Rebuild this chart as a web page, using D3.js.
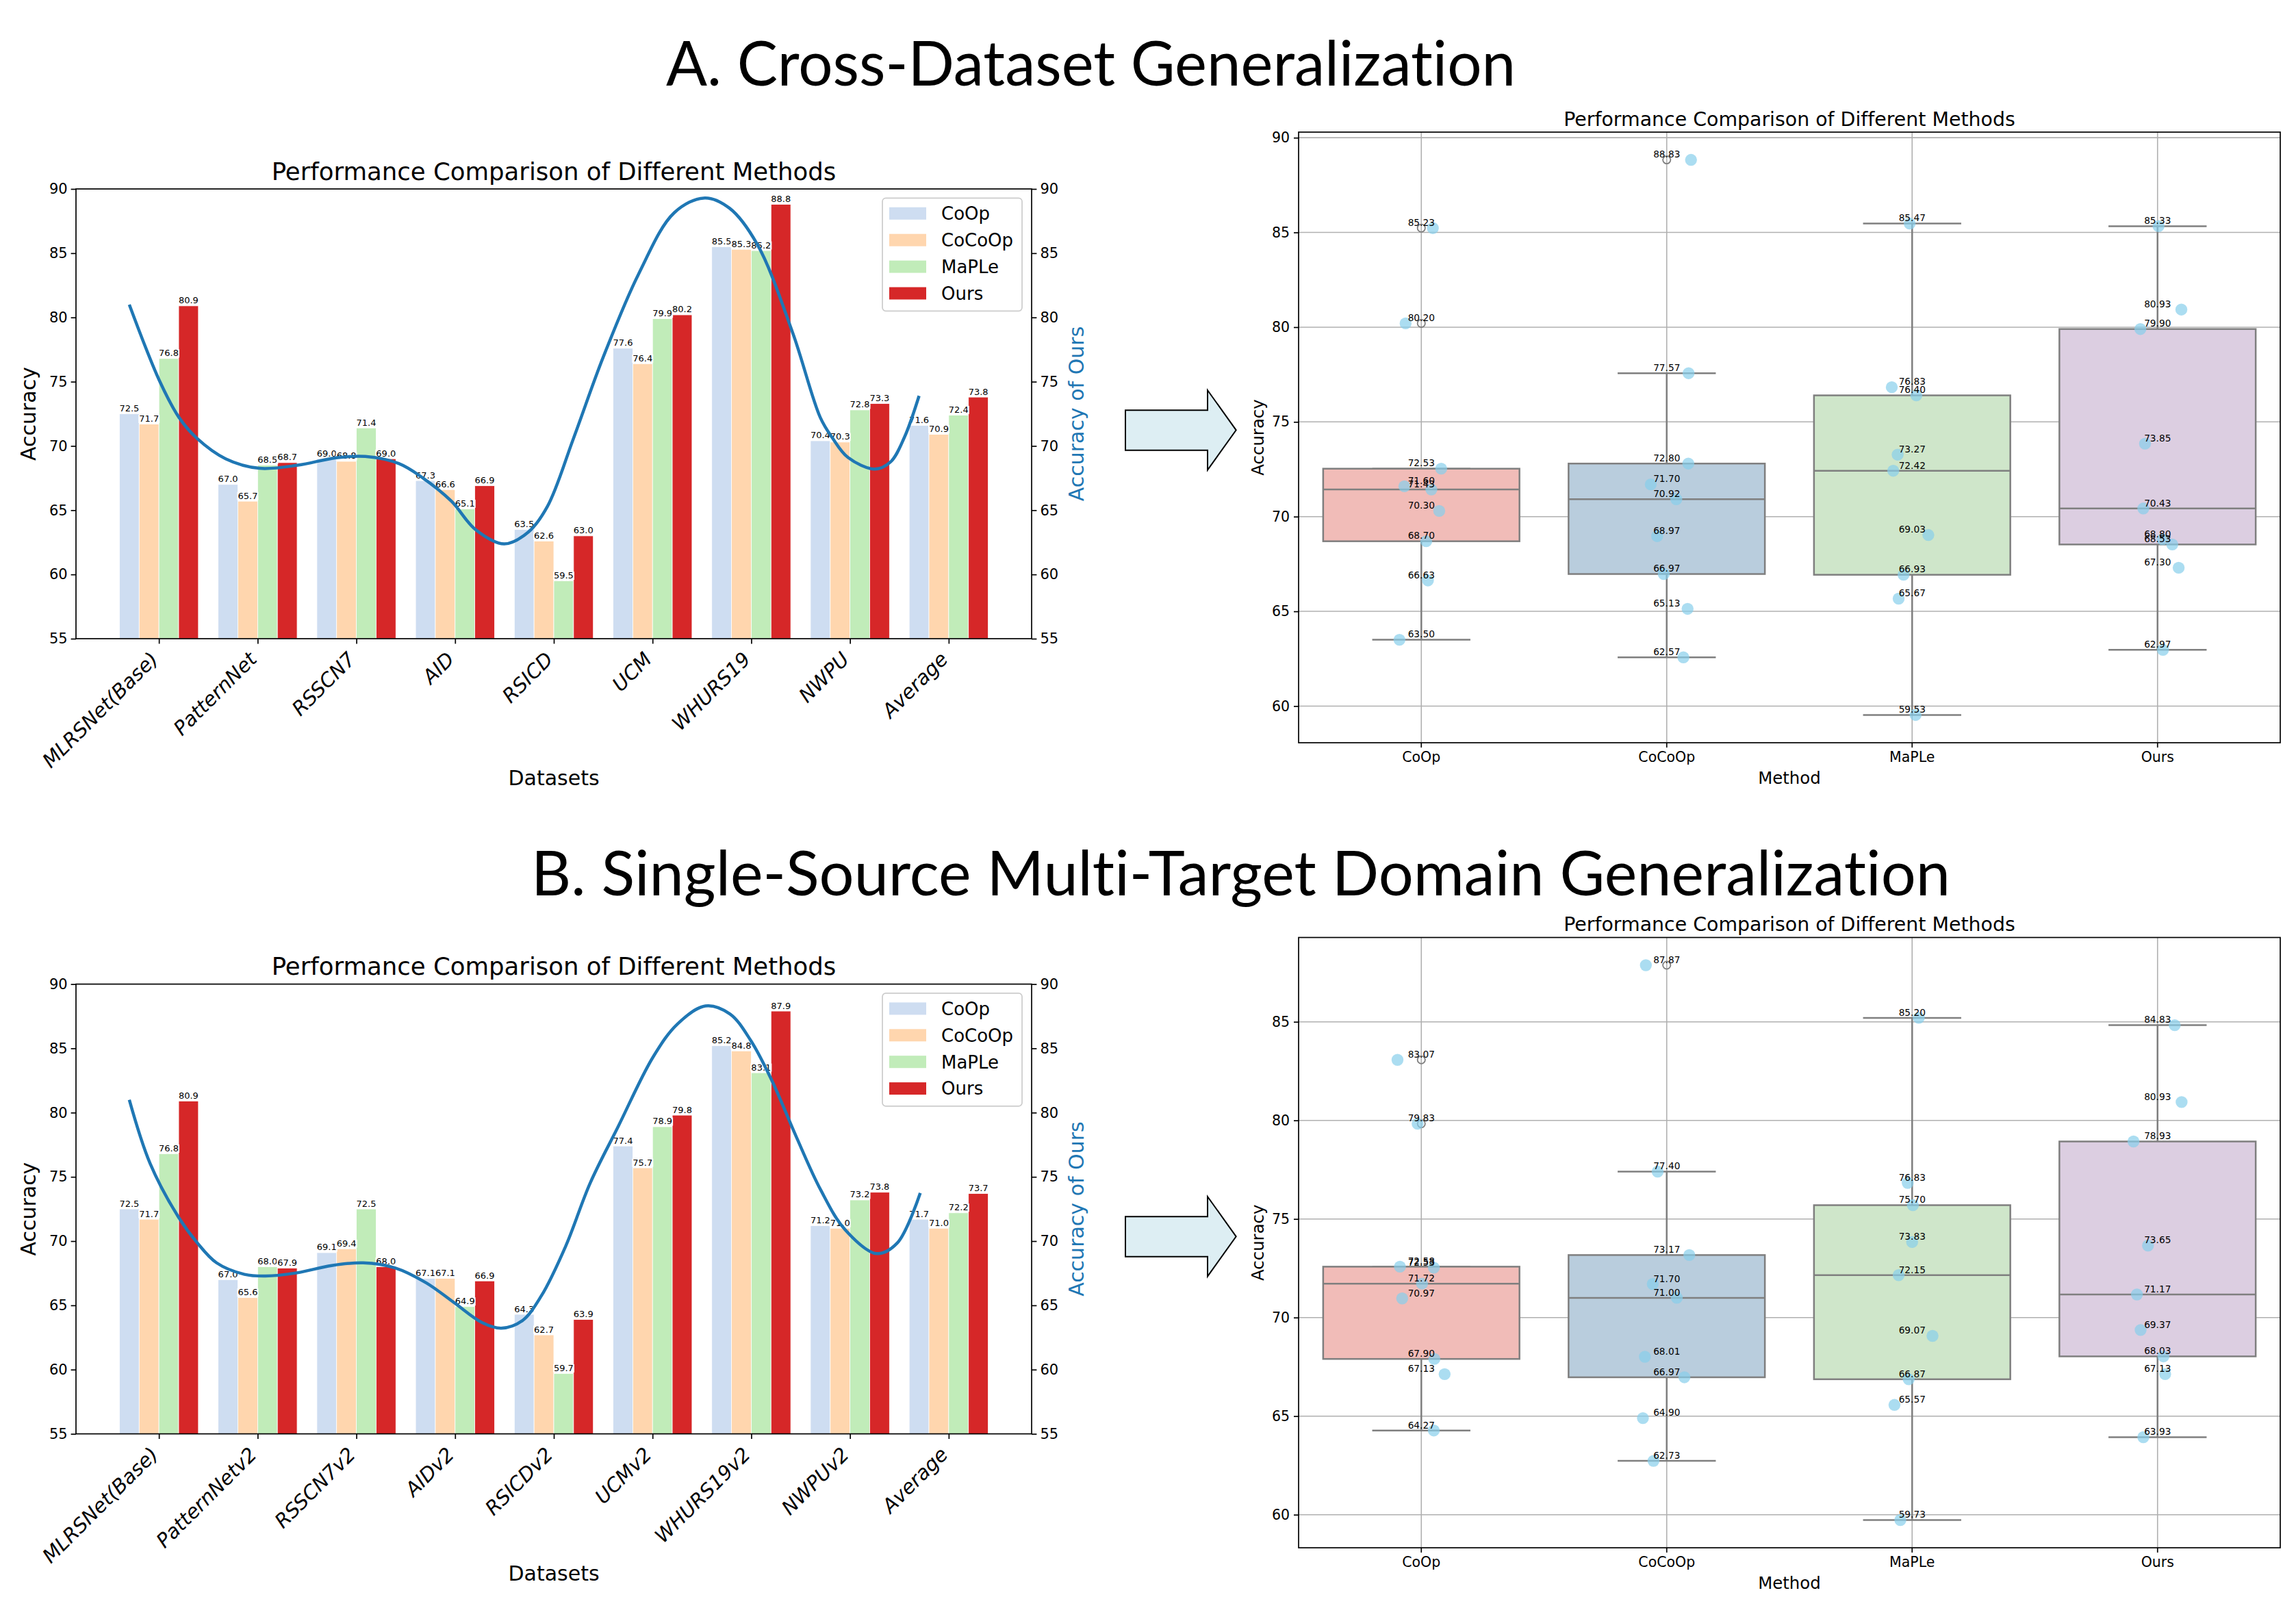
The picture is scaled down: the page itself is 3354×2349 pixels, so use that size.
<!DOCTYPE html>
<html>
<head>
<meta charset="utf-8">
<script src="https://cdn.jsdelivr.net/npm/d3@7"></script>
<style>
  body { margin: 0; background: #fff; }
  svg { display: block; }
  text { font-variant-ligatures: none; }
</style>
</head>
<body>
<svg id="fig" width="3354" height="2349"></svg>
<script>
// ---------------- data ----------------
const methods = ["CoOp", "CoCoOp", "MaPLe", "Ours"];

// A. cross-dataset bars
const datasetsA = ["MLRSNet(Base)", "PatternNet", "RSSCN7", "AID", "RSICD", "UCM", "WHURS19", "NWPU", "Average"];
const coopA   = [72.5, 67.0, 69.0, 67.3, 63.5, 77.6, 85.5, 70.4, 71.6];
const cocoopA = [71.7, 65.7, 68.8, 66.6, 62.6, 76.4, 85.3, 70.3, 70.9];
const mapleA  = [76.8, 68.5, 71.4, 65.1, 59.5, 79.9, 85.2, 72.8, 72.4];
const oursA   = [80.9, 68.7, 69.0, 66.9, 63.0, 80.2, 88.8, 73.3, 73.8];
// smoothed "Ours" trend (x = dataset index)
const trendXA = [0, 0.31, 0.505, 0.684, 0.976, 1.317, 1.707, 2.095, 2.39, 2.73, 2.97, 3.263, 3.506, 3.798, 4.042, 4.236, 4.5, 4.8, 5.16, 5.52, 5.83, 6.08, 6.36, 6.72, 7.0, 7.12, 7.28, 7.55, 7.71, 7.85, 8.0];
const trendYA = [81.0, 75.0, 72.2, 70.6, 69.0, 68.26, 68.5, 69.08, 69.18, 68.63, 67.53, 65.7, 63.5, 62.38, 63.3, 65.3, 70.6, 76.9, 83.4, 88.15, 89.3, 88.5, 85.7, 78.8, 72.2, 70.65, 69.1, 68.2, 68.75, 70.65, 73.9];

// B. single-source multi-target bars
const datasetsB = ["MLRSNet(Base)", "PatternNetv2", "RSSCN7v2", "AIDv2", "RSICDv2", "UCMv2", "WHURS19v2", "NWPUv2", "Average"];
const coopB   = [72.5, 67.0, 69.1, 67.1, 64.3, 77.4, 85.2, 71.2, 71.7];
const cocoopB = [71.7, 65.6, 69.4, 67.1, 62.7, 75.7, 84.8, 71.0, 71.0];
const mapleB  = [76.8, 68.0, 72.5, 64.9, 59.7, 78.9, 83.1, 73.2, 72.2];
const oursB   = [80.9, 67.9, 68.0, 66.9, 63.9, 79.8, 87.9, 73.8, 73.7];
const trendXB = [0, 0.21, 0.494, 0.689, 0.884, 1.167, 1.379, 1.698, 2.05, 2.37, 2.69, 3.006, 3.29, 3.573, 3.767, 3.98, 4.173, 4.42, 4.668, 4.951, 5.305, 5.553, 5.836, 6.083, 6.295, 6.508, 6.756, 7.003, 7.25, 7.569, 7.78, 8.012];
const trendYB = [81.0, 76.06, 71.92, 69.86, 68.31, 67.41, 67.28, 67.53, 68.1, 68.31, 67.92, 66.76, 65.21, 63.66, 63.22, 63.8, 65.73, 69.6, 74.51, 78.9, 84.32, 86.9, 88.3, 87.68, 85.61, 82.51, 78.12, 73.99, 70.89, 69.03, 69.86, 73.74];

// box plots: values per method and the horizontal jitter of each dot (category units)
const boxCoopA    = [85.23, 80.20, 72.53, 71.60, 71.43, 70.30, 68.70, 66.63, 63.50];
const jitCoopA    = [0.047, -0.064, 0.081, -0.069, 0.041, 0.073, 0.020, 0.027, -0.089];
const boxCocoopA  = [88.83, 77.57, 72.80, 71.70, 70.92, 68.97, 66.97, 65.13, 62.57];
const jitCocoopA  = [0.099, 0.089, 0.088, -0.065, 0.039, -0.039, -0.012, 0.085, 0.068];
const boxMapleA   = [85.47, 76.83, 76.40, 73.27, 72.42, 69.03, 66.93, 65.67, 59.53];
const jitMapleA   = [-0.010, -0.083, 0.017, -0.059, -0.077, 0.066, -0.035, -0.055, 0.014];
const boxOursA    = [85.33, 80.93, 79.90, 73.85, 70.43, 68.80, 68.53, 67.30, 62.97];
const jitOursA    = [0.004, 0.097, -0.070, -0.051, -0.058, 0.020, 0.060, 0.086, 0.022];

const boxCoopB    = [83.07, 79.83, 72.58, 72.53, 71.72, 70.97, 67.90, 67.13, 64.27];
const jitCoopB    = [-0.097, -0.015, -0.087, 0.051, 0.003, -0.078, 0.053, 0.095, 0.051];
const boxCocoopB  = [87.87, 77.40, 73.17, 71.70, 71.00, 68.01, 66.97, 64.90, 62.73];
const jitCocoopB  = [-0.085, -0.037, 0.092, -0.057, 0.041, -0.089, 0.072, -0.097, -0.054];
const boxMapleB   = [85.20, 76.83, 75.70, 73.83, 72.15, 69.07, 66.87, 65.57, 59.73];
const jitMapleB   = [0.027, -0.018, 0.003, 0.000, -0.055, 0.083, -0.014, -0.072, -0.048];
const boxOursB    = [84.83, 80.93, 78.93, 73.65, 71.17, 69.37, 68.03, 67.13, 63.93];
const jitOursB    = [0.070, 0.098, -0.098, -0.039, -0.084, -0.069, 0.024, 0.031, -0.058];

// ---------------- drawing ----------------
const svg = d3.select("#fig");
const FONT = "DejaVu Sans, Verdana, sans-serif";

const barColors = ["#aec7e8", "#ffbb78", "#98df8a", "#d62728"];
const barAlpha = [0.6, 0.6, 0.6, 1];
const lineBlue = "#1f77b4";

function styleAxis(g, size) {
  g.selectAll("path.domain").remove();
  g.selectAll(".tick line").attr("stroke", "#000").attr("stroke-width", 1.7);
  g.selectAll(".tick text").attr("font-family", FONT).attr("font-size", size).attr("fill", "#000");
}

function drawBars(top, datasets, series, trendX, trendY) {
  const left = 111, right = 1507, h = 657;
  const g = svg.append("g");
  const x = d3.scaleLinear().domain([-0.54, 9.14]).range([left, right]);
  const y = d3.scaleLinear().domain([55, 90]).range([top + h, top]);
  const bw = x(0.2) - x(0);

  // bars
  series.forEach((vals, k) => {
    g.append("g").selectAll("rect").data(vals).join("rect")
      .attr("x", (d, i) => x(i + 0.2 * k - 0.1))
      .attr("y", d => y(d))
      .attr("width", bw)
      .attr("height", d => y(55) - y(d))
      .attr("fill", barColors[k])
      .attr("fill-opacity", barAlpha[k])
      .attr("stroke", "#fff")
      .attr("stroke-width", 0.8);
  });

  // value labels
  const lab = g.append("g");
  series.forEach((vals, k) => {
    vals.forEach((v, i) => {
      const lg = lab.append("g");
      const t = lg.append("text")
        .attr("x", x(i + 0.2 * k))
        .attr("y", y(v) - 3.5)
        .attr("text-anchor", "middle")
        .attr("font-family", FONT)
        .attr("font-size", 13)
        .text(v.toFixed(1));
      const b = t.node().getBBox();
      lg.insert("rect", "text")
        .attr("x", b.x - 1).attr("y", b.y + 2)
        .attr("width", b.width + 2).attr("height", b.height - 3)
        .attr("fill", "#fff");
    });
  });

  // axes
  const ax = g.append("g").attr("transform", `translate(${left},0)`)
    .call(d3.axisLeft(y).tickValues(d3.range(55, 91, 5)).tickSize(7.4).tickPadding(5));
  styleAxis(ax, 21);
  const ax2 = g.append("g").attr("transform", `translate(${right},0)`)
    .call(d3.axisRight(y).tickValues(d3.range(55, 91, 5)).tickSize(7.4).tickPadding(5));
  styleAxis(ax2, 21);
  const axb = g.append("g").attr("transform", `translate(0,${top + h})`)
    .call(d3.axisBottom(x).tickValues(d3.range(datasets.length).map(i => i + 0.3))
      .tickFormat((d, i) => datasets[i]).tickSize(7.4));
  styleAxis(axb, 29);
  axb.selectAll(".tick text")
    .attr("font-style", "italic")
    .attr("text-anchor", "end")
    .attr("y", 0).attr("dy", 0)
    .attr("transform", "translate(0,32) rotate(-45)");

  // trend line of "Ours" (twin axis, same range)
  const pts = trendX.map((t, i) => [t, trendY[i]]);
  g.append("path")
    .attr("d", d3.line().x(d => x(d[0])).y(d => y(d[1])).curve(d3.curveCatmullRom.alpha(0.5))(pts))
    .attr("fill", "none")
    .attr("stroke", lineBlue)
    .attr("stroke-width", 4.5);

  // frame
  g.append("rect").attr("x", left).attr("y", top).attr("width", right - left).attr("height", h)
    .attr("fill", "none").attr("stroke", "#000").attr("stroke-width", 1.7);

  // legend
  const lgd = g.append("g");
  lgd.append("rect").attr("x", 1289).attr("y", top + 13.3).attr("width", 204).attr("height", 165)
    .attr("rx", 5).attr("fill", "#fff").attr("fill-opacity", 0.8)
    .attr("stroke", "#cccccc").attr("stroke-width", 1.7);
  methods.forEach((m, k) => {
    const cy = top + 35.8 + k * 38.9;
    lgd.append("rect").attr("x", 1299).attr("y", cy - 9).attr("width", 54).attr("height", 18)
      .attr("fill", barColors[k]).attr("fill-opacity", barAlpha[k]);
    lgd.append("text").attr("x", 1375).attr("y", cy).attr("dy", "0.36em")
      .attr("font-family", FONT).attr("font-size", 26).text(m);
  });

  // titles and labels
  g.append("text").attr("x", (left + right) / 2).attr("y", top - 13.5)
    .attr("text-anchor", "middle").attr("font-family", FONT).attr("font-size", 35.5)
    .text("Performance Comparison of Different Methods");
  g.append("text").attr("transform", `translate(41,${top + h / 2}) rotate(-90)`)
    .attr("text-anchor", "middle").attr("dominant-baseline", "central")
    .attr("font-family", FONT).attr("font-size", 30).text("Accuracy");
  g.append("text").attr("transform", `translate(1572,${top + h / 2}) rotate(-90)`)
    .attr("text-anchor", "middle").attr("dominant-baseline", "central")
    .attr("font-family", FONT).attr("font-size", 30).attr("fill", lineBlue).text("Accuracy of Ours");
  g.append("text").attr("x", (left + right) / 2).attr("y", top + h + 214)
    .attr("text-anchor", "middle").attr("font-family", FONT).attr("font-size", 30).text("Datasets");
}

function drawBoxes(top, bottom, groups) {
  const left = 1897, right = 3331;
  const g = svg.append("g");
  const allVals = groups.flatMap(d => d.vals);
  const lo = d3.min(allVals), hi = d3.max(allVals), pad = (hi - lo) * 0.05;
  const y = d3.scaleLinear().domain([lo - pad, hi + pad]).range([bottom, top]);
  const x = d3.scaleBand().domain(methods).range([left, right]).padding(0);
  const unit = x.bandwidth();
  const cx = m => x(m) + unit / 2;
  const yTicks = d3.range(60, 91, 5).filter(v => v >= lo - pad && v <= hi + pad);
  const edge = "#7f7f7f";

  // grid
  g.append("g").selectAll("line").data(yTicks).join("line")
    .attr("x1", left).attr("x2", right).attr("y1", d => y(d)).attr("y2", d => y(d))
    .attr("stroke", "#b0b0b0").attr("stroke-width", 1.6);
  g.append("g").selectAll("line").data(methods).join("line")
    .attr("x1", cx).attr("x2", cx).attr("y1", top).attr("y2", bottom)
    .attr("stroke", "#b0b0b0").attr("stroke-width", 1.6);

  // boxes
  groups.forEach((grp, k) => {
    const m = methods[k];
    const s = grp.vals.slice().sort(d3.ascending);
    const q1 = d3.quantile(s, 0.25), med = d3.quantile(s, 0.5), q3 = d3.quantile(s, 0.75);
    const iqr = q3 - q1;
    const wLo = d3.min(s.filter(v => v >= q1 - 1.5 * iqr));
    const wHi = d3.max(s.filter(v => v <= q3 + 1.5 * iqr));
    const fliers = s.filter(v => v < wLo || v > wHi);
    const c = d3.hsl(d3.schemePastel1[k]); c.s *= 0.75;
    const bx = cx(m) - unit * 0.4, bwid = unit * 0.8;
    const cap = unit * 0.2;

    g.append("line").attr("x1", cx(m)).attr("x2", cx(m)).attr("y1", y(q3)).attr("y2", y(wHi))
      .attr("stroke", edge).attr("stroke-width", 2.5);
    g.append("line").attr("x1", cx(m)).attr("x2", cx(m)).attr("y1", y(q1)).attr("y2", y(wLo))
      .attr("stroke", edge).attr("stroke-width", 2.5);
    [wLo, wHi].forEach(w => g.append("line")
      .attr("x1", cx(m) - cap).attr("x2", cx(m) + cap).attr("y1", y(w)).attr("y2", y(w))
      .attr("stroke", edge).attr("stroke-width", 2.5));
    g.append("rect").attr("x", bx).attr("y", y(q3)).attr("width", bwid).attr("height", y(q1) - y(q3))
      .attr("fill", c.formatHex()).attr("stroke", edge).attr("stroke-width", 2.5);
    g.append("line").attr("x1", bx).attr("x2", bx + bwid).attr("y1", y(med)).attr("y2", y(med))
      .attr("stroke", edge).attr("stroke-width", 2.5);
    g.append("g").selectAll("circle").data(fliers).join("circle")
      .attr("cx", cx(m)).attr("cy", d => y(d)).attr("r", 5.6)
      .attr("fill", "none").attr("stroke", edge).attr("stroke-width", 1.8);
  });

  // jittered dots
  groups.forEach((grp, k) => {
    const m = methods[k];
    g.append("g").selectAll("circle").data(grp.vals).join("circle")
      .attr("cx", (d, i) => cx(m) + grp.jit[i] * unit)
      .attr("cy", d => y(d))
      .attr("r", 8.7)
      .attr("fill", "#87ceeb").attr("fill-opacity", 0.7);
  });

  // value labels
  groups.forEach((grp, k) => {
    const m = methods[k];
    g.append("g").selectAll("text").data(grp.vals).join("text")
      .attr("x", cx(m)).attr("y", d => y(d) - 3.2)
      .attr("text-anchor", "middle").attr("font-family", FONT).attr("font-size", 13.7)
      .text(d => d.toFixed(2));
  });

  // axes
  const ax = g.append("g").attr("transform", `translate(${left},0)`)
    .call(d3.axisLeft(y).tickValues(yTicks).tickSize(7).tickPadding(6));
  styleAxis(ax, 20.5);
  const axb = g.append("g").attr("transform", `translate(0,${bottom})`)
    .call(d3.axisBottom(x).tickSize(7).tickPadding(6));
  styleAxis(axb, 20.5);
  g.append("rect").attr("x", left).attr("y", top).attr("width", right - left).attr("height", bottom - top)
    .attr("fill", "none").attr("stroke", "#000").attr("stroke-width", 1.7);

  g.append("text").attr("x", (left + right) / 2).attr("y", top - 9.5)
    .attr("text-anchor", "middle").attr("font-family", FONT).attr("font-size", 28.4)
    .text("Performance Comparison of Different Methods");
  g.append("text").attr("transform", `translate(1837,${(top + bottom) / 2}) rotate(-90)`)
    .attr("text-anchor", "middle").attr("dominant-baseline", "central")
    .attr("font-family", FONT).attr("font-size", 24.4).text("Accuracy");
  g.append("text").attr("x", (left + right) / 2).attr("y", bottom + 59.5)
    .attr("text-anchor", "middle").attr("font-family", FONT).attr("font-size", 24.4).text("Method");
}

function drawArrow(dy) {
  const pts = [[1644, 599.3], [1764, 599.3], [1764, 570], [1805.7, 628.3], [1764, 686.7], [1764, 657.7], [1644, 657.7]];
  svg.append("path")
    .attr("d", d3.line()(pts.map(p => [p[0], p[1] + dy])) + "Z")
    .attr("fill", "#ddeef3").attr("stroke", "#000").attr("stroke-width", 2);
}

function bigTitle(text, x0, x1, baseline) {
  svg.append("text").attr("x", x0).attr("y", baseline)
    .attr("font-family", "Lato, 'Open Sans', sans-serif").attr("font-size", 91)
    .attr("textLength", x1 - x0).attr("lengthAdjust", "spacingAndGlyphs")
    .text(text);
}

bigTitle("A. Cross-Dataset Generalization", 973, 2214, 124.6);
bigTitle("B. Single-Source Multi-Target Domain Generalization", 776, 2849, 1307.6);

drawBars(276, datasetsA, [coopA, cocoopA, mapleA, oursA], trendXA, trendYA);
drawBars(1437.6, datasetsB, [coopB, cocoopB, mapleB, oursB], trendXB, trendYB);

drawBoxes(193, 1085, [
  { vals: boxCoopA, jit: jitCoopA },
  { vals: boxCocoopA, jit: jitCocoopA },
  { vals: boxMapleA, jit: jitMapleA },
  { vals: boxOursA, jit: jitOursA }
]);
drawBoxes(1369.5, 2261, [
  { vals: boxCoopB, jit: jitCoopB },
  { vals: boxCocoopB, jit: jitCocoopB },
  { vals: boxMapleB, jit: jitMapleB },
  { vals: boxOursB, jit: jitOursB }
]);

drawArrow(0);
drawArrow(1178);
</script>
</body>
</html>
